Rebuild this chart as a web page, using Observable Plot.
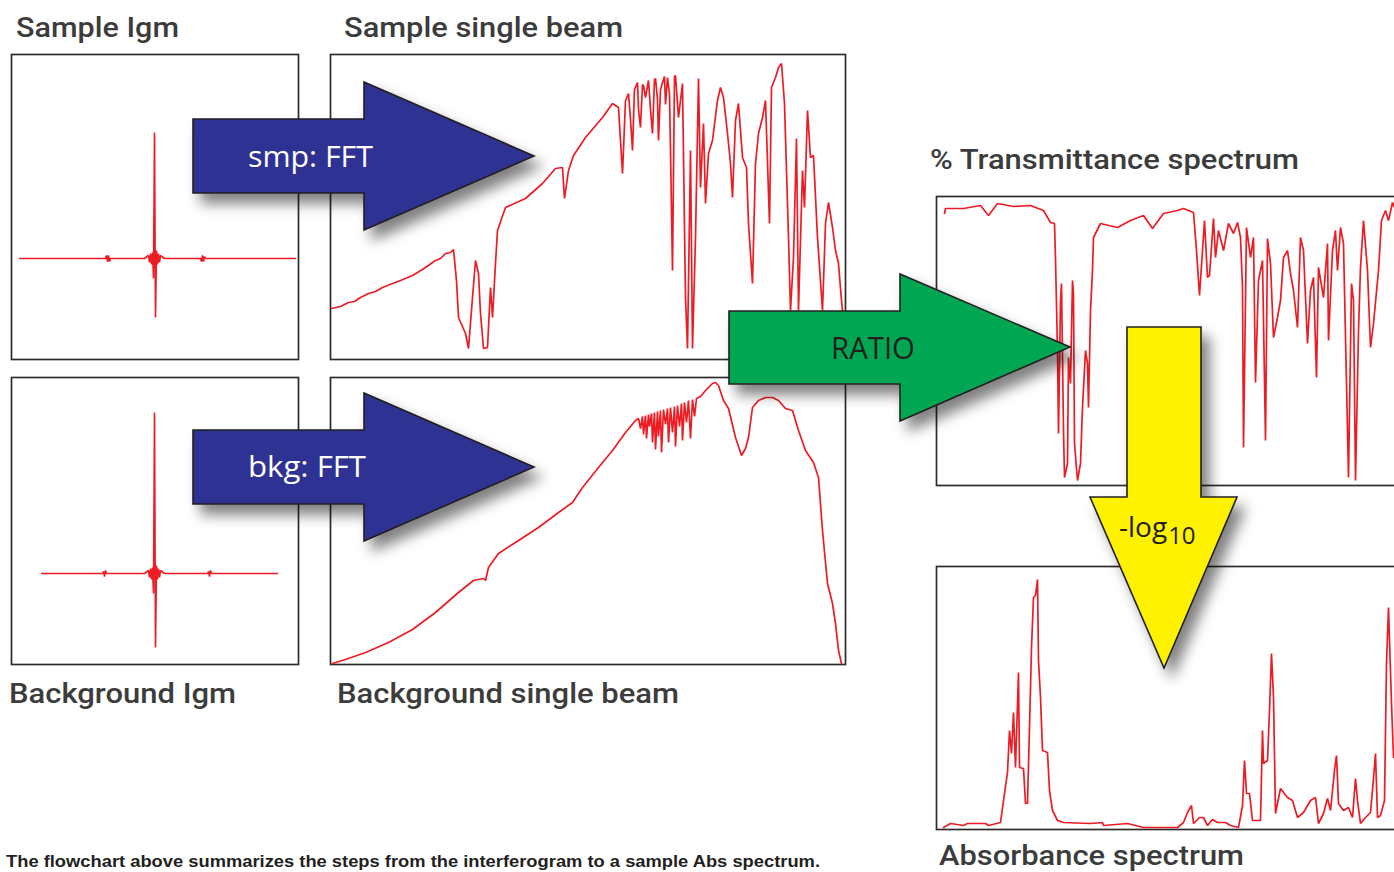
<!DOCTYPE html>
<html>
<head>
<meta charset="utf-8">
<script src="https://cdn.jsdelivr.net/npm/d3@7"></script>
<script src="https://cdn.jsdelivr.net/npm/@observablehq/plot@0.6"></script>
<style>
  html, body { margin: 0; padding: 0; background: #fff; }
  #root { position: relative; width: 1394px; height: 872px; overflow: hidden; background: #fff; }
  #root svg { max-width: none; }
</style>
</head>
<body>
<div id="root"></div>
<script>
// ---------- Data (x = sample position, y = signal) ----------
// Sample interferogram (centre burst at 0)
const sampleIgmX = [-135,-49,-48,-47,-46,-45,-44,-10,-6,-5,-4,-3,-2,-1,0,1,2,3,4,5,6,10,46,47,48,49,50,51,141];
const sampleIgmY = [0,0,3,-3,3,-3,0,0,3,-4,5,-6,6,-20,126,-59,8,-6,5,-4,3,0,0,-3,3,-3,2,0,0];

// Background interferogram
const bkgIgmX = [-113,-52,-51,-50,-49,-48,-10,-6,-5,-4,-3,-2,-1,0,1,2,3,4,5,6,10,53,54,55,56,57,123];
const bkgIgmY = [0,0,2,-3,3,0,0,3,-4,5,-6,6,-20,161,-74,8,-6,5,-4,3,0,0,2,-3,3,0,0];

// Sample single beam
const sampleBeamX = [1,10,18,24,30,38,45,52,62,70,82,92,105,110,115,120,123,126,128,135,138,142,145,148,150,153,157,160,162,165,167,175,195,212,225,232,234,238,243,255,272,282,288,292,295,298,300,302,304,307,308,310,312,313,315,318,320,322,324,325,327,328,330,332,334,335,337,339,340,342,344,345,348,352,355,357,360,362,365,368,370,373,375,378,382,387,390,393,397,400,402,405,408,412,416,418,422,425,428,432,435,439,441,445,448,451,454,458,460,463,466,468,472,474,477,480,483,487,492,495,498,502,505,508,511,512];
const sampleBeamY = [51,53,57,58,62,66,68,72,76,79,84,90,99,101,106,107,110,79,42,26,11,62,99,86,46,11,12,72,42,96,129,152,161,176,191,192,161,189,204,222,242,256,252,186,259,266,240,209,270,277,250,232,275,274,262,279,250,226,280,281,260,219,270,277,283,255,282,265,209,89,283,284,242,276,62,11,209,11,122,281,172,236,156,206,219,259,272,262,226,196,162,239,256,202,192,136,76,196,226,242,259,136,272,282,292,296,256,122,49,102,221,49,189,152,249,202,204,122,49,136,157,132,109,96,59,49];

// Background single beam
const bkgBeamX = [2,15,35,58,82,105,128,143,153,155,158,168,185,208,228,242,252,268,282,295,305,308,310,312,313,315,316,318,319,321,322,324,325,327,328,330,331,333,335,337,338,340,342,344,345,347,349,351,352,354,356,358,360,362,364,366,370,375,382,385,388,393,398,405,411,415,418,422,428,435,442,448,455,462,465,468,475,483,488,492,497,502,505,508,511];
const bkgBeamY = [1,5,12,22,35,52,72,84,86,84,97,111,122,137,152,162,177,197,214,232,244,246,236,248,230,249,226,250,238,251,222,252,215,253,228,254,212,255,240,256,222,257,232,258,218,259,238,261,224,262,242,264,226,265,248,266,268,274,281,282,279,264,256,227,209,216,227,257,264,267,267,264,256,254,244,234,214,202,187,134,81,61,41,14,1];

// % Transmittance spectrum
const transX = [8,9,27,44,52,61,77,94,107,114,118,119,121,122,124,125,127,128,131,132,134,136,137,138,141,144,146,149,151,152,154,156,157,164,181,194,207,216,227,241,247,257,260,263,266,268,271,273,277,279,282,287,292,297,301,304,306,307,310,314,317,319,322,326,329,331,334,337,341,344,347,351,354,357,361,364,367,371,374,377,380,382,387,391,392,396,399,401,404,407,410,412,415,417,419,422,424,427,431,434,437,442,445,449,452,456,458];
const transY = [272,277,277,280,270,282,279,280,275,263,262,227,135,52,185,202,55,8,22,128,102,205,192,42,5,22,78,135,122,78,175,215,248,262,258,265,270,257,272,275,277,273,235,190,235,265,208,210,267,228,255,235,262,252,263,248,198,38,258,228,248,103,205,225,45,247,222,148,168,185,228,235,212,195,158,248,235,142,195,208,108,218,188,242,145,235,255,215,258,242,102,8,202,185,5,155,218,265,215,138,162,215,265,275,265,283,278];

// Absorbance spectrum
const absX = [7,14,27,31,49,52,64,68,71,73,75,77,79,82,83,87,89,91,93,95,97,99,101,102,104,106,111,113,116,121,127,154,166,167,191,207,227,241,247,251,255,257,263,267,271,276,281,289,294,302,306,308,310,313,316,324,326,327,331,333,335,337,339,344,351,356,361,367,374,379,382,387,391,394,398,400,402,407,412,416,419,421,424,429,434,437,439,441,444,448,450,452,455,457];
const absY = [2,6,4,6,6,4,7,36,57,99,76,117,62,157,62,61,26,26,102,182,232,234,250,169,132,79,77,39,19,9,7,6,7,4,6,2,2,2,7,17,24,6,12,12,4,10,7,7,4,2,24,69,36,36,9,9,99,66,69,119,176,132,16,41,32,29,12,17,29,32,6,16,31,19,59,74,26,19,22,12,51,29,6,12,17,51,76,12,14,29,166,222,126,72];

// Text
const titles = ["Sample Igm","Sample single beam","% Transmittance spectrum","Background Igm","Background single beam","Absorbance spectrum"];
const caption = "The flowchart above summarizes the steps from the interferogram to a sample Abs spectrum.";
const arrowLabels = ["smp: FFT","bkg: FFT","RATIO","-log","10"];

// ---------- Layout ----------
const root = document.getElementById("root");
const RED = "#ed1c24";

function rows(xs, ys) {
  const n = Math.min(xs.length, ys.length);
  return d3.range(n).map(i => ({x: xs[i], y: ys[i]}));
}

function panel({left, top, w, h, data, xDomain, yDomain, sw}) {
  const svg = Plot.plot({
    width: w + 2, height: h + 2, margin: 1,
    x: {domain: xDomain, axis: null},
    y: {domain: yDomain, axis: null},
    style: {background: "transparent", overflow: "visible"},
    marks: [
      Plot.frame({stroke: "#2b2b2b", strokeWidth: 1.7}),
      Plot.line(data, {x: "x", y: "y", stroke: RED, strokeWidth: sw || 1.7, strokeLinejoin: "miter"})
    ]
  });
  const div = document.createElement("div");
  div.style.cssText = `position:absolute;left:${left-1}px;top:${top-1}px;width:${w+2}px;height:${h+2}px;`;
  div.appendChild(svg);
  root.appendChild(div);
}

panel({left: 11, top: 54, w: 287, h: 305, data: rows(sampleIgmX, sampleIgmY), xDomain: [-143, 144], yDomain: [-101, 204], sw: 1.6});
panel({left: 330, top: 54, w: 515, h: 305, data: rows(sampleBeamX, sampleBeamY), xDomain: [0, 515], yDomain: [0, 305]});
panel({left: 11, top: 377, w: 287, h: 287, data: rows(bkgIgmX, bkgIgmY), xDomain: [-143, 144], yDomain: [-91, 196], sw: 1.6});
panel({left: 330, top: 377, w: 515, h: 287, data: rows(bkgBeamX, bkgBeamY), xDomain: [0, 515], yDomain: [0, 287]});
panel({left: 936, top: 196, w: 470, h: 289, data: rows(transX, transY), xDomain: [0, 470], yDomain: [0, 289]});
panel({left: 936, top: 566, w: 470, h: 263, data: rows(absX, absY), xDomain: [0, 470], yDomain: [0, 263]});

// ---------- Overlay: arrows and text ----------
const ov = d3.select(root).append("svg")
  .attr("width", 1394).attr("height", 872)
  .style("position", "absolute").style("left", 0).style("top", 0);

const f = ov.append("defs").append("filter").attr("id", "sh")
  .attr("x", "-30%").attr("y", "-30%").attr("width", "170%").attr("height", "170%");
f.append("feGaussianBlur").attr("in", "SourceAlpha").attr("stdDeviation", 7).attr("result", "b");
f.append("feOffset").attr("in", "b").attr("dx", 8).attr("dy", 10).attr("result", "o");
f.append("feComponentTransfer").attr("in", "o").attr("result", "s")
  .append("feFuncA").attr("type", "linear").attr("slope", 0.5);
const fm = f.append("feMerge");
fm.append("feMergeNode").attr("in", "s");
fm.append("feMergeNode").attr("in", "SourceGraphic");

const arrows = [
  {d: "M193,119 H364 V82 L534,156 L364,230 V193 H193 Z", fill: "#2e3192"},
  {d: "M193,430 H364 V393 L534,467 L364,541 V504 H193 Z", fill: "#2e3192"},
  {d: "M729,311 H900 V274 L1070,347 L900,421 V384 H729 Z", fill: "#00a651"},
  {d: "M1127,327 H1201 V497 H1237 L1164,668 L1090,497 H1127 Z", fill: "#fff200"}
];
ov.selectAll("path.arrow").data(arrows).join("path")
  .attr("class", "arrow").attr("d", d => d.d).attr("fill", d => d.fill)
  .attr("stroke", "#231f20").attr("stroke-width", 1.6).attr("stroke-linejoin", "miter")
  .attr("filter", "url(#sh)");

const lab = (t, x, y, size, fill, len) => {
  const e = ov.append("text").attr("x", x).attr("y", y).text(t)
    .attr("font-family", "'Open Sans', 'Noto Sans', sans-serif").attr("font-size", size).attr("fill", fill);
  if (len) e.attr("textLength", len).attr("lengthAdjust", "spacingAndGlyphs");
  return e;
};
lab(arrowLabels[0], 248, 167, 30, "#fff", 125);
lab(arrowLabels[1], 248, 477, 30, "#fff", 118);
lab(arrowLabels[2], 831, 359, 31, "#231f20", 84);
const lg = ov.append("text").attr("x", 1119).attr("y", 537)
  .attr("font-family", "'Open Sans', 'Noto Sans', sans-serif").attr("font-size", 28).attr("fill", "#231f20");
lg.append("tspan").text(arrowLabels[3]);
lg.append("tspan").attr("font-size", 24).attr("dy", 7).attr("dx", 1).text(arrowLabels[4]);

// Titles
const titlePos = [
  {x: 16, y: 37, len: 163},
  {x: 344, y: 37, len: 279},
  {x: 930, y: 169, len: 369},
  {x: 9, y: 703, len: 227},
  {x: 337, y: 703, len: 342},
  {x: 939, y: 865, len: 305}
];
titles.forEach((t, i) => {
  ov.append("text").attr("x", titlePos[i].x).attr("y", titlePos[i].y).text(t)
    .attr("font-family", "Roboto, 'DejaVu Sans', sans-serif").attr("font-weight", 500)
    .attr("font-size", 27.5).attr("fill", "#3c3c3c")
    .attr("textLength", titlePos[i].len).attr("lengthAdjust", "spacingAndGlyphs");
});
ov.append("text").attr("x", 6).attr("y", 867).text(caption)
  .attr("font-family", "'Liberation Sans', Arial, sans-serif").attr("font-weight", "bold")
  .attr("font-size", 16.5).attr("fill", "#231f20")
  .attr("textLength", 814).attr("lengthAdjust", "spacingAndGlyphs");
</script>
</body>
</html>
